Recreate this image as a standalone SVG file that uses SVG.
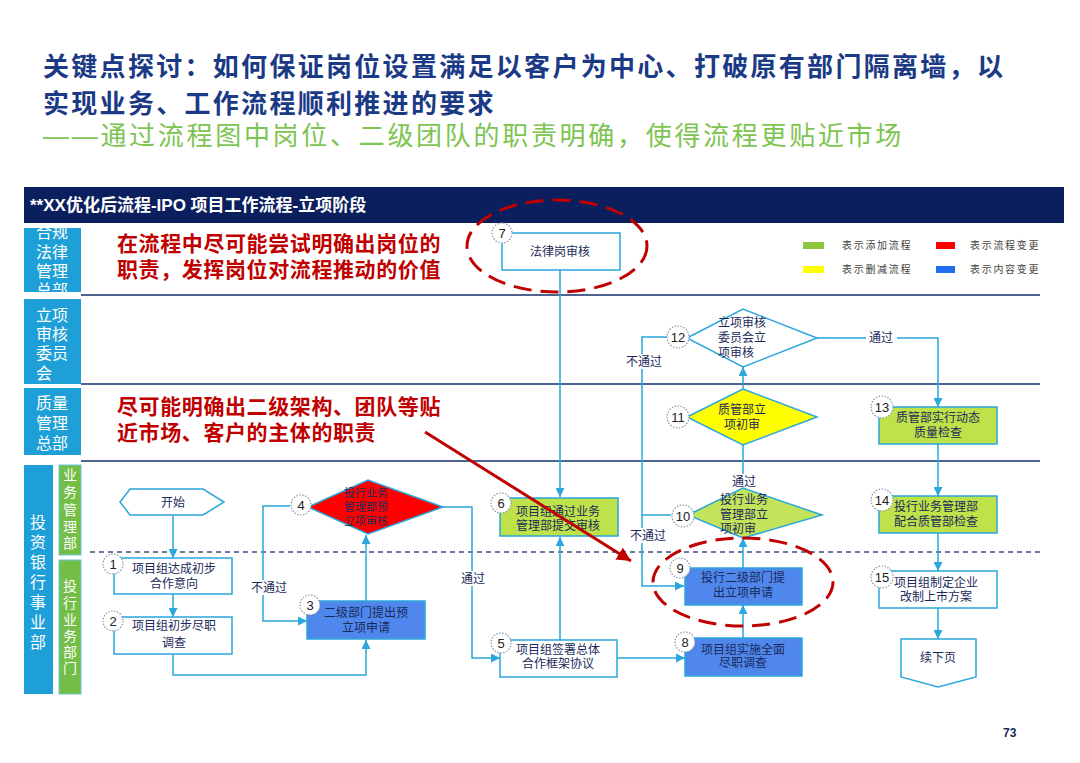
<svg xmlns="http://www.w3.org/2000/svg" width="1080" height="763" viewBox="0 0 1080 763">
<style>
text{font-family:"Liberation Sans","Noto Sans CJK SC",sans-serif;}
.t1{font-size:26px;font-weight:bold;fill:#1B3A86;letter-spacing:2.3px;}
.t3{font-size:26px;fill:#7DC450;letter-spacing:2.7px;}
.hdr{font-size:17px;font-weight:bold;fill:#fff;}
.red{font-size:21px;font-weight:bold;fill:#C00000;letter-spacing:0.6px;}
.lane{font-size:16px;fill:#fff;text-anchor:middle;}
.sub{font-size:14px;fill:#fff;text-anchor:middle;}
.lg{font-size:10px;fill:#444;letter-spacing:1.7px;}
.n{font-size:12px;fill:#1A2A5A;text-anchor:middle;}
.nl{font-size:12px;fill:#1A2A5A;}
.lbl{font-size:12px;fill:#1A2A5A;text-anchor:middle;}
.box{fill:#fff;stroke:#2AA7DC;stroke-width:1.5;}
.grn{fill:#BFE24A;stroke:#2AA7DC;stroke-width:1.5;}
.blu{fill:#4F87EC;stroke:#2AA7DC;stroke-width:1.5;}
.badge{fill:#fff;stroke:#8A96A8;stroke-width:1.2;stroke-dasharray:1.5 1.5;}
.bn{font-size:13px;fill:#222;text-anchor:middle;}
.c{fill:none;stroke:#2AA7DC;stroke-width:1.5;}
.sep{stroke:#4F6391;stroke-width:2;}
.lanebox{fill:#1E9FD8;}
.subbox{fill:#72BE47;stroke:#6FC3E0;stroke-width:1;}
.ell{fill:none;stroke:#C00000;stroke-width:3;stroke-dasharray:18 9;}
</style>
<defs>
<marker id="ah" viewBox="0 0 10 10" refX="10" refY="5" markerWidth="9" markerHeight="9" markerUnits="userSpaceOnUse" orient="auto">
<path d="M0,0 L10,5 L0,10 z" fill="#2AA7DC"/>
</marker>
<marker id="rah" viewBox="0 0 10 10" refX="10" refY="5" markerWidth="14" markerHeight="14" markerUnits="userSpaceOnUse" orient="auto">
<path d="M0,0 L10,5 L0,10 z" fill="#C00000"/>
</marker>
<clipPath id="lane1clip"><rect x="24" y="228" width="57" height="64"/></clipPath>
</defs>
<rect x="0" y="0" width="1080" height="763" fill="#fff"/>

<g id="title">
<text class="t1" x="43" y="76">关键点探讨：如何保证岗位设置满足以客户为中心、打破原有部门隔离墙，以</text>
<text class="t1" x="43" y="113">实现业务、工作流程顺利推进的要求</text>
<text class="t3" x="43" y="145">——通过流程图中岗位、二级团队的职责明确，使得流程更贴近市场</text>
</g>

<g id="header">
<rect x="24" y="187" width="1040" height="36" fill="#0B1F5E"/>
<text class="hdr" x="30" y="211">**XX优化后流程-IPO 项目工作流程-立项阶段</text>
</g>

<g id="lanes">
<rect class="lanebox" x="24" y="228" width="57" height="64"/>
<g clip-path="url(#lane1clip)">
<text class="lane" x="52" y="238">合规</text>
<text class="lane" x="52" y="258">法律</text>
<text class="lane" x="52" y="277">管理</text>
<text class="lane" x="52" y="296">总部</text>
</g>
<rect class="lanebox" x="24" y="299" width="57" height="85"/>
<text class="lane" x="52" y="321">立项</text>
<text class="lane" x="52" y="340">审核</text>
<text class="lane" x="52" y="359">委员</text>
<text class="lane" x="44" y="379">会</text>
<rect class="lanebox" x="24" y="388" width="57" height="67"/>
<text class="lane" x="52" y="409">质量</text>
<text class="lane" x="52" y="429">管理</text>
<text class="lane" x="52" y="449">总部</text>
<rect class="lanebox" x="24" y="465" width="29" height="229"/>
<text class="lane" x="38" y="528">投</text>
<text class="lane" x="38" y="548">资</text>
<text class="lane" x="38" y="568">银</text>
<text class="lane" x="38" y="588">行</text>
<text class="lane" x="38" y="608">事</text>
<text class="lane" x="38" y="628">业</text>
<text class="lane" x="38" y="648">部</text>
<rect class="subbox" x="59" y="465" width="22" height="90"/>
<text class="sub" x="70" y="480">业</text>
<text class="sub" x="70" y="497">务</text>
<text class="sub" x="70" y="515">管</text>
<text class="sub" x="70" y="532">理</text>
<text class="sub" x="70" y="548">部</text>
<rect class="subbox" x="59" y="560" width="22" height="134"/>
<text class="sub" x="70" y="591">投</text>
<text class="sub" x="70" y="608">行</text>
<text class="sub" x="70" y="625">业</text>
<text class="sub" x="70" y="641">务</text>
<text class="sub" x="70" y="657">部</text>
<text class="sub" x="70" y="673">门</text>
<line class="sep" x1="81" y1="295" x2="1040" y2="295"/>
<line class="sep" x1="81" y1="384" x2="1040" y2="384"/>
<line class="sep" x1="81" y1="461" x2="1040" y2="461"/>
<line x1="90" y1="552" x2="1040" y2="552" stroke="#3D4E80" stroke-width="1.5" stroke-dasharray="5 4"/>
</g>

<g id="legend">
<rect x="803" y="242" width="21" height="7" fill="#8CC63F"/>
<text class="lg" x="842" y="249">表示添加流程</text>
<rect x="936" y="242" width="19" height="7" fill="#FF0000"/>
<text class="lg" x="970" y="249">表示流程变更</text>
<rect x="803" y="266" width="21" height="7" fill="#FFFF00"/>
<text class="lg" x="842" y="273">表示删减流程</text>
<rect x="936" y="266" width="19" height="7" fill="#1F6FEF"/>
<text class="lg" x="970" y="273">表示内容变更</text>
</g>

<g id="annotations">
<text class="red" x="117" y="251">在流程中尽可能尝试明确出岗位的</text>
<text class="red" x="117" y="277">职责，发挥岗位对流程推动的价值</text>
<text class="red" x="117" y="414">尽可能明确出二级架构、团队等贴</text>
<text class="red" x="117" y="440">近市场、客户的主体的职责</text>
</g>

<g id="connectors">
<line class="c" x1="173" y1="515" x2="173" y2="558" marker-end="url(#ah)"/>
<line class="c" x1="173" y1="594" x2="173" y2="617" marker-end="url(#ah)"/>
<polyline class="c" points="173,654 173,675 366,675 366,640" marker-end="url(#ah)"/>
<line class="c" x1="366" y1="601" x2="366" y2="535" marker-end="url(#ah)"/>
<polyline class="c" points="290,506 263,506 263,621 307,621" marker-end="url(#ah)"/>
<polyline class="c" points="443,507 472,507 472,658 500,658" marker-end="url(#ah)"/>
<line class="c" x1="560" y1="270" x2="560" y2="497" marker-end="url(#ah)"/>
<line class="c" x1="560" y1="640" x2="560" y2="537" marker-end="url(#ah)"/>
<line class="c" x1="617" y1="658" x2="685" y2="658" marker-end="url(#ah)"/>
<line class="c" x1="743" y1="638" x2="743" y2="605" marker-end="url(#ah)"/>
<line class="c" x1="743" y1="568" x2="743" y2="538" marker-end="url(#ah)"/>
<line class="c" x1="743" y1="488" x2="743" y2="445"/>
<line class="c" x1="743" y1="389" x2="743" y2="367" marker-end="url(#ah)"/>
<polyline class="c" points="667,337 642,337 642,586 684,586" marker-end="url(#ah)"/>
<line class="c" x1="671" y1="515" x2="642" y2="515"/>
<polyline class="c" points="817,338 938,338 938,407" marker-end="url(#ah)"/>
<line class="c" x1="938" y1="444" x2="938" y2="496" marker-end="url(#ah)"/>
<line class="c" x1="938" y1="533" x2="938" y2="571" marker-end="url(#ah)"/>
<line class="c" x1="938" y1="608" x2="938" y2="639" marker-end="url(#ah)"/>
<rect x="626" y="354" width="37" height="15" fill="#fff"/>
<text class="lbl" x="644" y="366">不通过</text>
<rect x="629" y="528" width="37" height="15" fill="#fff"/>
<text class="lbl" x="648" y="540">不通过</text>
<rect x="732" y="474" width="24" height="14" fill="#fff"/>
<text class="lbl" x="744" y="486">通过</text>
<rect x="866" y="331" width="31" height="14" fill="#fff"/>
<text class="lbl" x="881" y="342">通过</text>
<rect x="461" y="571" width="24" height="15" fill="#fff"/>
<text class="lbl" x="473" y="583">通过</text>
<rect x="251" y="580" width="37" height="15" fill="#fff"/>
<text class="lbl" x="269" y="592">不通过</text>
</g>

<g id="node-start">
<polygon class="box" points="120,502 130,489 203,489 224,502 203,515 130,515"/>
<text class="n" x="173" y="507">开始</text>
</g>
<g id="node-1">
<rect class="box" x="114" y="558" width="118" height="36"/>
<text class="n" x="174" y="573">项目组达成初步</text>
<text class="n" x="174" y="588">合作意向</text>
<circle class="badge" cx="113" cy="564" r="10"/><text class="bn" x="113" y="569">1</text>
</g>
<g id="node-2">
<rect class="box" x="114" y="617" width="118" height="37"/>
<text class="n" x="174" y="630">项目组初步尽职</text>
<text class="n" x="174" y="647">调查</text>
<circle class="badge" cx="113" cy="621" r="10"/><text class="bn" x="113" y="626">2</text>
</g>
<g id="node-3">
<rect class="blu" x="307" y="601" width="118" height="38"/>
<text class="n" x="366" y="617">二级部门提出预</text>
<text class="n" x="366" y="632">立项申请</text>
<circle class="badge" cx="310" cy="605" r="10"/><text class="bn" x="310" y="610">3</text>
</g>
<g id="node-4">
<polygon points="308,507 368,480 443,507 368,534" fill="#FF0000" stroke="#2AA7DC" stroke-width="1.5"/>
<text class="n" x="366" y="497" style="font-size:11px">投行业务</text>
<text class="n" x="366" y="511" style="font-size:11px">管理部预</text>
<text class="n" x="366" y="525" style="font-size:11px">立项审核</text>
<circle class="badge" cx="301" cy="505" r="10"/><text class="bn" x="301" y="510">4</text>
</g>
<g id="node-5">
<rect class="box" x="500" y="640" width="117" height="37"/>
<text class="n" x="558" y="654">项目组签署总体</text>
<text class="n" x="558" y="668">合作框架协议</text>
<circle class="badge" cx="501" cy="643" r="10"/><text class="bn" x="501" y="648">5</text>
</g>
<g id="node-6">
<rect class="grn" x="500" y="498" width="118" height="38"/>
<text class="n" x="558" y="516">项目组通过业务</text>
<text class="n" x="558" y="530">管理部提交审核</text>
<circle class="badge" cx="501" cy="503" r="10"/><text class="bn" x="501" y="508">6</text>
</g>
<g id="node-7">
<rect class="box" x="502" y="233" width="118" height="37"/>
<text class="n" x="560" y="256">法律岗审核</text>
<circle class="badge" cx="502" cy="233" r="10"/><text class="bn" x="502" y="238">7</text>
</g>
<g id="node-8">
<rect class="blu" x="685" y="638" width="117" height="38"/>
<text class="n" x="743" y="654">项目组实施全面</text>
<text class="n" x="743" y="667">尽职调查</text>
<circle class="badge" cx="685" cy="642" r="10"/><text class="bn" x="685" y="647">8</text>
</g>
<g id="node-9">
<rect class="blu" x="685" y="568" width="117" height="37"/>
<text class="n" x="743" y="582">投行二级部门提</text>
<text class="n" x="743" y="597">出立项申请</text>
<circle class="badge" cx="680" cy="568" r="10"/><text class="bn" x="680" y="573">9</text>
</g>
<g id="node-10">
<polygon points="688,515 743,488 822,515 743,538" fill="#C3E35A" stroke="#2AA7DC" stroke-width="1.5"/>
<text class="nl" x="720" y="504">投行业务</text>
<text class="nl" x="720" y="519">管理部立</text>
<text class="nl" x="720" y="533">项初审</text>
<circle class="badge" cx="683" cy="516" r="11"/><text class="bn" x="683" y="521">10</text>
</g>
<g id="node-11">
<polygon points="687,417 743,389 817,417 743,445" fill="#FFFF00" stroke="#2AA7DC" stroke-width="1.5"/>
<text class="n" x="742" y="414">质管部立</text>
<text class="n" x="742" y="429">项初审</text>
<circle class="badge" cx="678" cy="417" r="11"/><text class="bn" x="678" y="422">11</text>
</g>
<g id="node-12">
<polygon points="687,338 743,309 817,338 743,367" fill="#fff" stroke="#2AA7DC" stroke-width="1.5"/>
<text class="nl" x="718" y="327">立项审核</text>
<text class="nl" x="718" y="342">委员会立</text>
<text class="nl" x="718" y="357">项审核</text>
<circle class="badge" cx="678" cy="337" r="11"/><text class="bn" x="678" y="342">12</text>
</g>
<g id="node-13">
<rect class="grn" x="879" y="407" width="118" height="37"/>
<text class="n" x="938" y="422">质管部实行动态</text>
<text class="n" x="938" y="437">质量检查</text>
<circle class="badge" cx="882" cy="407" r="11"/><text class="bn" x="882" y="412">13</text>
</g>
<g id="node-14">
<rect class="grn" x="879" y="496" width="118" height="37"/>
<text class="n" x="936" y="511">投行业务管理部</text>
<text class="n" x="936" y="526">配合质管部检查</text>
<circle class="badge" cx="882" cy="500" r="11"/><text class="bn" x="882" y="505">14</text>
</g>
<g id="node-15">
<rect class="box" x="879" y="571" width="118" height="37"/>
<text class="n" x="936" y="587">项目组制定企业</text>
<text class="n" x="936" y="601">改制上市方案</text>
<circle class="badge" cx="882" cy="577" r="11"/><text class="bn" x="882" y="582">15</text>
</g>
<g id="node-next">
<polygon class="box" points="901,639 976,639 976,677 938,687 901,677"/>
<text class="n" x="938" y="662">续下页</text>
</g>

<g id="highlights">
<ellipse class="ell" cx="557" cy="246" rx="90" ry="46"/>
<ellipse class="ell" cx="743" cy="582" rx="90" ry="44"/>
<line x1="425" y1="432" x2="631" y2="561" stroke="#C00000" stroke-width="3" marker-end="url(#rah)"/>
</g>

<text x="1003" y="737" style="font-size:12px;font-weight:bold;fill:#1A2A5A">73</text>
</svg>
